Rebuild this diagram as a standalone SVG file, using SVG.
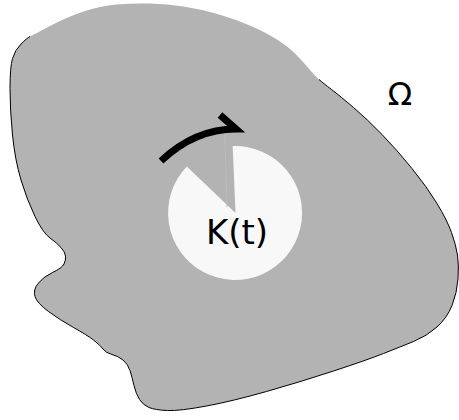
<svg xmlns="http://www.w3.org/2000/svg" width="459" height="420" viewBox="0 0 459 420">
<style>
.lbl{font-family:"DejaVu Sans","Liberation Sans",sans-serif;fill:#000;text-anchor:middle}
</style>
<rect width="459" height="420" fill="#fff"/>
<g id="omega-region">
<path fill="#b3b3b3" d="M116.5,4.5 Q133,3 150,3.5 Q167,4 183.5,6.5 Q200,9 217.5,14 Q235,19 251,26 Q267,33 278.5,40.5 Q290,48 297.5,56 Q305,64 310,70 Q315,76 319,79.5 Q323,83 331.5,89.5 Q340,96 353.5,107.5 Q367,119 382,134.5 Q397,150 412,168.5 Q427,187 437,203.5 Q447,220 451.5,232.5 Q456,245 457.5,255 Q459,265 458,279 Q457,293 452,305.5 Q447,318 437,327 Q427,336 413.5,341.5 Q400,347 383.5,353.5 Q367,360 333.5,371 Q300,382 266.5,391.5 Q233,401 206.5,406 Q180,411 167.5,410.5 Q155,410 149,407.5 Q143,405 139.5,399.5 Q136,394 134,385.5 Q132,377 130,370.5 Q128,364 123,360 Q118,356 112,354.5 Q106,353 103,349 Q100,345 93.5,340 Q87,335 73.5,327.5 Q60,320 48.5,311.5 Q37,303 35,296.5 Q33,290 38,283.5 Q43,277 52.5,272.5 Q62,268 64,264 Q66,260 65.5,256 Q65,252 61,247.5 Q57,243 50,238 Q43,233 35,216.5 Q27,200 21,180 Q15,160 12.5,135 Q10,110 10,88.5 Q10,67 12.5,58.5 Q15,50 21,44 Q27,38 30,36.5 Q33,35 50,26 Q67,17 83.5,11.5 Q100,6 116.5,4.5 Z"/>
<path fill="none" stroke="#000" stroke-width="1" d="M319,79.5 Q323,83 331.5,89.5 Q340,96 353.5,107.5 Q367,119 382,134.5 Q397,150 412,168.5 Q427,187 437,203.5 Q447,220 451.5,232.5 Q456,245 457.5,255 Q459,265 458,279 Q457,293 452,305.5 Q447,318 437,327 Q427,336 413.5,341.5 Q400,347 383.5,353.5 Q367,360 333.5,371 Q300,382 266.5,391.5 Q233,401 206.5,406 Q180,411 167.5,410.5 Q155,410 149,407.5 Q143,405 139.5,399.5 Q136,394 134,385.5 Q132,377 130,370.5 Q128,364 123,360 Q118,356 112,354.5 Q106,353 103,349 Q100,345 93.5,340 Q87,335 73.5,327.5 Q60,320 48.5,311.5 Q37,303 35,296.5 Q33,290 38,283.5 Q43,277 52.5,272.5 Q62,268 64,264 Q66,260 65.5,256 Q65,252 61,247.5 Q57,243 50,238 Q43,233 35,216.5 Q27,200 21,180 Q15,160 12.5,135 Q10,110 10,88.5 Q10,67 12.5,58.5 Q15,50 21,44 Q27,38 30,36.5"/>
<text class="lbl" x="400" y="105" font-size="32">Ω</text>
</g>
<g id="K">
<path fill="#f8f8f8" d="M235.5,213 L232.7,146 A67,67 0 1 1 186.8,166.5 Z"/>
<text class="lbl" x="237" y="244" font-size="34">K(t)</text>
</g>
<g id="connectors">
<line x1="224.5" y1="129" x2="227" y2="207" stroke="#bcbcbc" stroke-width="1"/>
<path fill="none" stroke="#000" stroke-width="7" stroke-linejoin="miter" d="M161,161 C180,143 205,129 236,129 L220,115"/>
</g>
</svg>
